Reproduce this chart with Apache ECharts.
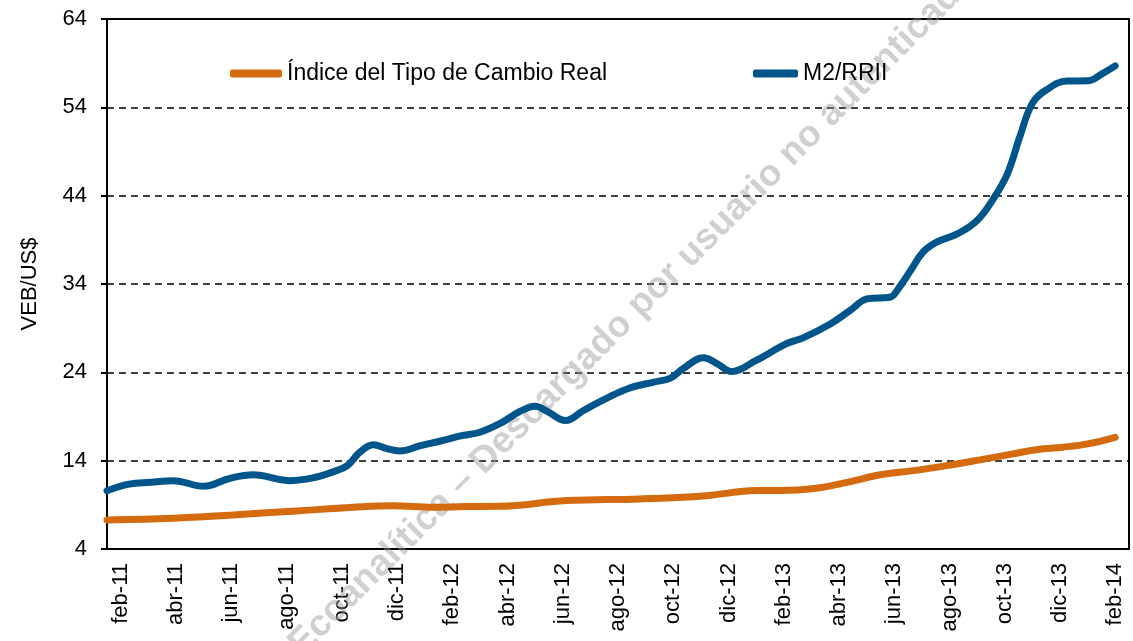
<!DOCTYPE html>
<html>
<head>
<meta charset="utf-8">
<script src="https://cdn.jsdelivr.net/npm/echarts@6/dist/echarts.min.js"></script>
<style>
    html, body { margin: 0; padding: 0; background: #fff; }
    #chart { width: 1133px; height: 641px; }
</style>
</head>
<body>
<div id="chart"></div>
<script>
    // categorías del eje x (una por mes)
    const months = [
        'feb-11', 'mar-11', 'abr-11', 'may-11', 'jun-11', 'jul-11', 'ago-11', 'sep-11', 'oct-11', 'nov-11', 'dic-11', 'ene-12',
        'feb-12', 'mar-12', 'abr-12', 'may-12', 'jun-12', 'jul-12', 'ago-12', 'sep-12', 'oct-12', 'nov-12', 'dic-12', 'ene-13',
        'feb-13', 'mar-13', 'abr-13', 'may-13', 'jun-13', 'jul-13', 'ago-13', 'sep-13', 'oct-13', 'nov-13', 'dic-13', 'ene-14',
        'feb-14'
    ];

    // posición en meses desde feb-11
    const itcrPos = [0, 2.4, 4.55, 7.0, 8.9, 10.35, 11.8, 13.0, 14.2, 16.65, 19.3, 21.7, 23.5, 24.4, 25.6,
        26.8, 28.0, 29.2, 30.4, 31.6, 32.8, 33.7, 34.6, 35.5, 36.5];
    const itcrValues = [7.29, 7.47, 7.85, 8.34, 8.72, 8.9, 8.72, 8.8, 8.83, 9.48, 9.67, 10.04, 10.61, 10.62, 10.85,
        11.55, 12.4, 12.87, 13.44, 14.09, 14.77, 15.26, 15.52, 15.9, 16.65];

    const m2Pos = [0, 0.8, 1.6, 2.4, 3.5, 4.45, 5.3, 6.6, 7.45, 8.2, 8.7, 9.15, 9.65, 10.1, 10.6, 11.35, 12.05, 12.8,
        13.5, 14.25, 14.95, 15.5, 15.95, 16.6, 17.25, 18.1, 18.9, 19.8, 20.4, 20.85, 21.6, 22.1, 22.6, 23.5, 24.6, 25.2,
        26.2, 26.9, 27.55, 28.35, 28.65, 29.1, 29.55, 30.05, 30.8, 31.5, 32.1, 32.6, 33.05, 33.5, 34.0, 34.75, 35.5, 36.05, 36.5];
    const m2Values = [10.6, 11.35, 11.55, 11.74, 11.1, 12.0, 12.4, 11.74, 12.05, 12.76, 13.44, 14.95, 15.8, 15.4, 15.1, 15.7, 16.2, 16.8,
        17.22, 18.24, 19.57, 20.17, 19.55, 18.55, 19.68, 21.07, 22.2, 22.9, 23.35, 24.4, 25.66, 24.97, 24.1, 25.35, 27.24, 27.9,
        29.5, 31.0, 32.34, 32.5, 33.48, 35.55, 37.63, 38.76, 39.7, 41.2, 43.7, 46.5, 50.7, 54.45, 55.96, 56.98, 57.0, 57.85, 58.7];

    const yTicks = [4, 14, 24, 34, 44, 54, 64];

    const pairs = (xs, ys) => xs.map((x, i) => [x, ys[i]]);

    const font = 'Liberation Sans, Arial, sans-serif';
    const chart = echarts.init(document.getElementById('chart'));

    const option = {
        backgroundColor: '#fff',
        animation: false,
        textStyle: { fontFamily: font },
        grid: {
            left: 107,
            right: 4,
            top: 19,
            bottom: 92,
            containLabel: false,
            outerBoundsMode: 'none',
            show: true,
            borderColor: '#000',
            borderWidth: 2,
            backgroundColor: 'transparent'
        },
        legend: [
            {
                left: 225,
                top: 57,
                data: ['Índice del Tipo de Cambio Real'],
                icon: 'roundRect',
                itemWidth: 52,
                itemHeight: 8,
                textStyle: { fontSize: 23, color: '#000', fontFamily: font }
            },
            {
                left: 748,
                top: 57,
                data: ['M2/RRII'],
                icon: 'roundRect',
                itemWidth: 45,
                itemHeight: 8,
                textStyle: { fontSize: 23, color: '#000', fontFamily: font }
            }
        ],
        graphic: [
            {
                type: 'text',
                x: 633,
                y: 312,
                rotation: Math.PI / 4,
                z: 1,
                silent: true,
                style: {
                    text: 'Ecoanalítica – Descargado por usuario no autenticado',
                    fontFamily: font,
                    fontWeight: 'bold',
                    fontSize: 37,
                    fill: 'rgba(150,150,150,0.45)',
                    align: 'center',
                    verticalAlign: 'middle'
                }
            }
        ],
        xAxis: [
            {
                type: 'category',
                data: months,
                boundaryGap: true,
                axisLine: { lineStyle: { color: '#000', width: 2 } },
                axisTick: { interval: 1, length: 6, lineStyle: { color: '#000', width: 2 } },
                axisLabel: {
                    interval: 1,
                    rotate: 90,
                    margin: 14,
                    fontSize: 22,
                    color: '#000',
                    fontFamily: font
                },
                splitLine: { show: false }
            },
            {
                type: 'value',
                min: 0,
                max: months.length,
                show: false,
                splitLine: { show: false }
            }
        ],
        yAxis: {
            type: 'value',
            min: yTicks[0],
            max: yTicks[yTicks.length - 1],
            interval: 10,
            name: 'VEB/US$',
            nameLocation: 'middle',
            nameGap: 66,
            nameTextStyle: { fontSize: 22, color: '#000', fontFamily: font },
            axisLine: { show: true, lineStyle: { color: '#000', width: 2 } },
            axisTick: { show: true, length: 6, lineStyle: { color: '#000', width: 2 } },
            axisLabel: { margin: 20, fontSize: 22, color: '#000', fontFamily: font },
            splitLine: { show: true, lineStyle: { color: '#000', width: 1.6, type: [7, 5] } }
        },
        series: [
            {
                name: 'Índice del Tipo de Cambio Real',
                type: 'line',
                xAxisIndex: 1,
                data: pairs(itcrPos, itcrValues),
                symbol: 'none',
                smooth: 0.4,
                z: 3,
                lineStyle: { color: '#D46B0E', width: 7, cap: 'round' },
                itemStyle: { color: '#D46B0E' }
            },
            {
                name: 'M2/RRII',
                type: 'line',
                xAxisIndex: 1,
                data: pairs(m2Pos, m2Values),
                symbol: 'none',
                smooth: 0.4,
                z: 3,
                lineStyle: { color: '#00568A', width: 7, cap: 'round' },
                itemStyle: { color: '#00568A' }
            }
        ]
    };

    chart.setOption(option);
    window.addEventListener('resize', function () {
        chart.resize();
    });
</script>
</body>
</html>
